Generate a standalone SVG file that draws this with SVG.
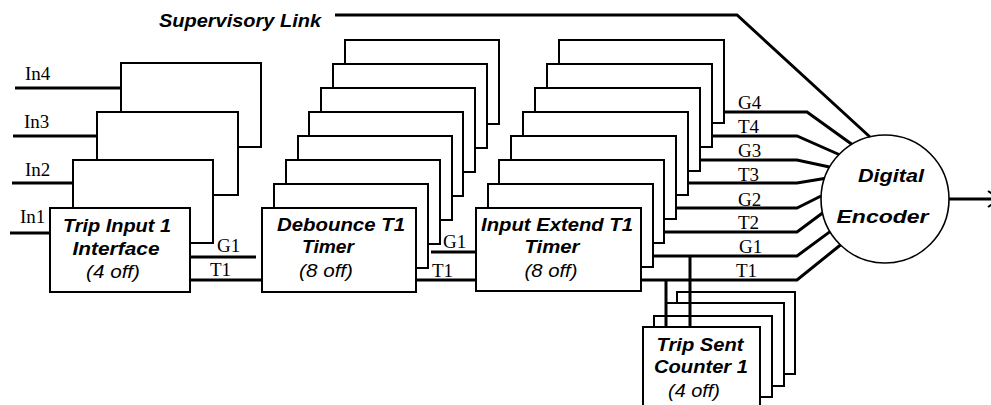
<svg xmlns="http://www.w3.org/2000/svg" width="991" height="405" viewBox="0 0 991 405">
<style>
.box{fill:#fff;stroke:#000;stroke-width:2}
.wire{fill:none;stroke:#000;stroke-width:3}
.enc{fill:#fff;stroke:#000;stroke-width:1.6}
.lbl{font-family:"Liberation Serif","Times New Roman",serif;font-size:19px;fill:#000}
.t{font-family:"Liberation Sans",Arial,sans-serif;font-size:19px;font-weight:bold;font-style:italic;text-anchor:middle;fill:#000}
.n{font-weight:normal}
</style>
<rect width="991" height="405" fill="#fff"/>
<g id="trip-input">
<rect class="box" x="121" y="63" width="140" height="84"/>
<rect class="box" x="97" y="112" width="141" height="83"/>
<rect class="box" x="73" y="160" width="140" height="83"/>
<rect class="box" x="50" y="208" width="140" height="84"/>
<text class="t" x="117" y="232" textLength="108" lengthAdjust="spacingAndGlyphs">Trip Input 1</text>
<text class="t" x="116" y="255" textLength="87" lengthAdjust="spacingAndGlyphs">Interface</text>
<text class="t n" x="113" y="278" textLength="54" lengthAdjust="spacingAndGlyphs">(4 off)</text>
</g>
<g id="debounce">
<rect class="box" x="345" y="40" width="154" height="84"/>
<rect class="box" x="333" y="64" width="154" height="84"/>
<rect class="box" x="321" y="88" width="154" height="84"/>
<rect class="box" x="309" y="112" width="154" height="84"/>
<rect class="box" x="298" y="136" width="154" height="84"/>
<rect class="box" x="286" y="160" width="154" height="84"/>
<rect class="box" x="274" y="184" width="154" height="84"/>
<rect class="box" x="262" y="208" width="154" height="84"/>
<text class="t" x="341" y="231" textLength="128" lengthAdjust="spacingAndGlyphs">Debounce T1</text>
<text class="t" x="328" y="253" textLength="52" lengthAdjust="spacingAndGlyphs">Timer</text>
<text class="t n" x="326" y="277" textLength="54" lengthAdjust="spacingAndGlyphs">(8 off)</text>
</g>
<g id="input-extend">
<rect class="box" x="559" y="40" width="165" height="83"/>
<rect class="box" x="547" y="64" width="165" height="83"/>
<rect class="box" x="535" y="88" width="165" height="83"/>
<rect class="box" x="523" y="112" width="165" height="83"/>
<rect class="box" x="511" y="136" width="165" height="83"/>
<rect class="box" x="499" y="160" width="165" height="83"/>
<rect class="box" x="488" y="184" width="165" height="83"/>
<rect class="box" x="476" y="208" width="165" height="83"/>
<text class="t" x="557" y="231" textLength="152" lengthAdjust="spacingAndGlyphs">Input Extend T1</text>
<text class="t" x="552" y="253" textLength="55" lengthAdjust="spacingAndGlyphs">Timer</text>
<text class="t n" x="551" y="277" textLength="53" lengthAdjust="spacingAndGlyphs">(8 off)</text>
</g>
<g id="trip-sent-counter">
<rect class="box" x="677" y="292" width="118" height="82"/>
<rect class="box" x="666" y="303" width="118" height="83"/>
<rect class="box" x="654" y="316" width="118" height="81"/>
<rect class="box" x="643" y="327" width="117" height="90"/>
<text class="t" x="700" y="351" textLength="87" lengthAdjust="spacingAndGlyphs">Trip Sent</text>
<text class="t" x="701" y="373" textLength="94" lengthAdjust="spacingAndGlyphs">Counter 1</text>
<text class="t n" x="694" y="397" textLength="52" lengthAdjust="spacingAndGlyphs">(4 off)</text>
</g>
<g id="digital-encoder">
<circle class="enc" cx="885" cy="199" r="64"/>
<text class="t" x="891" y="182" textLength="66" lengthAdjust="spacingAndGlyphs">Digital</text>
<text class="t" x="882.5" y="223" textLength="92" lengthAdjust="spacingAndGlyphs">Encoder</text>
</g>
<g id="connectors">
<path class="wire" d="M15 88H121M13 136H97M12 183H73M10 233H50"/>
<path class="wire" d="M190 257H256M190 280H262"/>
<path class="wire" d="M431 252H476M416 280H476"/>
<path class="wire" d="M335 15H737L870 137"/>
<path class="wire" d="M724 112H807L851.8 144.3"/>
<path class="wire" d="M712 136H797L839 154.5"/>
<path class="wire" d="M700 160H797L829.5 167"/>
<path class="wire" d="M688 183H797L824.3 178.6"/>
<path class="wire" d="M676 208H797L821 196"/>
<path class="wire" d="M664 232H797L822.5 213"/>
<path class="wire" d="M653 256H797L830 231.6"/>
<path class="wire" d="M641 280H797L840.4 245"/>
<path class="wire" d="M690 256V327M666 280V327"/>
<path class="wire" d="M949 199H991"/>
<polyline fill="none" stroke="#000" stroke-width="2" points="988,191 1000,199 988,207"/>
</g>
<g id="labels">
<text class="t" x="159" y="27" style="text-anchor:start" textLength="162" lengthAdjust="spacingAndGlyphs">Supervisory Link</text>
<text class="lbl" x="25" y="80">In4</text>
<text class="lbl" x="24" y="128">In3</text>
<text class="lbl" x="25" y="176">In2</text>
<text class="lbl" x="20" y="223">In1</text>
<text class="lbl" x="217" y="252">G1</text>
<text class="lbl" x="210" y="276">T1</text>
<text class="lbl" x="443" y="248">G1</text>
<text class="lbl" x="432" y="277">T1</text>
<text class="lbl" x="738" y="109">G4</text>
<text class="lbl" x="738" y="133">T4</text>
<text class="lbl" x="738" y="157">G3</text>
<text class="lbl" x="738" y="181">T3</text>
<text class="lbl" x="738" y="206">G2</text>
<text class="lbl" x="738" y="229">T2</text>
<text class="lbl" x="739" y="253">G1</text>
<text class="lbl" x="736" y="277">T1</text>
</g>
</svg>
